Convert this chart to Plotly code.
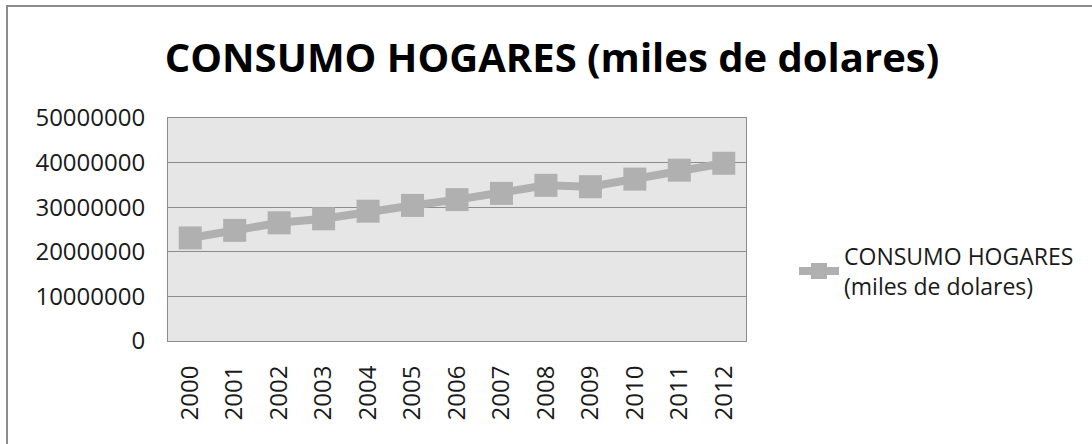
import plotly.graph_objects as go

# datos
anios = ['2000', '2001', '2002', '2003', '2004', '2005', '2006',
         '2007', '2008', '2009', '2010', '2011', '2012']
consumo = [23100000, 24800000, 26500000, 27400000, 29100000, 30400000, 31700000,
           33100000, 34900000, 34600000, 36300000, 38300000, 39850000]
y_ticks = [0, 10000000, 20000000, 30000000, 40000000, 50000000]

titulo = 'CONSUMO HOGARES (miles de dolares)'
nombre_serie = 'CONSUMO HOGARES<br>(miles de dolares)'

W, H = 1092, 444
L, R, T, B = 168, 746, 118, 341
FUENTE = 'Open Sans'
GRIS = '#b0b0b0'


def px_x(p):
    return (p - L) / (R - L)


def px_y(p):
    return (B - p) / (B - T)


fig = go.Figure()
fig.add_trace(go.Scatter(
    x=anios,
    y=consumo,
    name=nombre_serie,
    mode='lines+markers',
    line=dict(color=GRIS, width=8),
    marker=dict(symbol='square', size=23, color=GRIS),
    showlegend=True,
))

fig.update_layout(
    width=W,
    height=H,
    margin=dict(l=L, r=W - R, t=T, b=H - B, autoexpand=False),
    paper_bgcolor='white',
    plot_bgcolor='#e6e6e6',
    font=dict(family=FUENTE, color='#1a1a1a'),
    title=dict(
        text='<b>' + titulo + '</b>',
        x=px_x(552), xref='paper', xanchor='center',
        y=1 - 58 / H, yref='container', yanchor='middle',
        font=dict(family=FUENTE, size=40, color='black'),
    ),
    legend=dict(
        x=px_x(794), xanchor='left',
        y=px_y(271), yanchor='middle',
        font=dict(family=FUENTE, size=23, color='#1a1a1a'),
        bgcolor='rgba(0,0,0,0)',
        itemwidth=40,
    ),
    shapes=[dict(
        type='rect', xref='paper', yref='paper',
        x0=px_x(7), x1=px_x(W + 20), y0=px_y(H + 20), y1=px_y(6),
        line=dict(color='#8c8c8c', width=2), fillcolor='rgba(0,0,0,0)',
        layer='below',
    )],
)

fig.update_xaxes(
    type='category',
    range=[-0.5, len(anios) - 0.5],
    tickangle=-90,
    tickfont=dict(family=FUENTE, size=24),
    showgrid=False,
    showline=True, linecolor='#8c8c8c', linewidth=1, mirror=True,
    ticks='', ticklabelstandoff=14,
)
fig.update_yaxes(
    range=[0, 50000000],
    tickvals=y_ticks,
    ticktext=[str(v) for v in y_ticks],
    tickfont=dict(family=FUENTE, size=24),
    showgrid=True, gridcolor='#8c8c8c', gridwidth=1,
    showline=True, linecolor='#8c8c8c', linewidth=1, mirror=True,
    zeroline=False,
    ticks='', ticklabelstandoff=17,
)

fig.write_html('out.html', config={'displayModeBar': False},
               post_script="document.body.style.margin='0';")
